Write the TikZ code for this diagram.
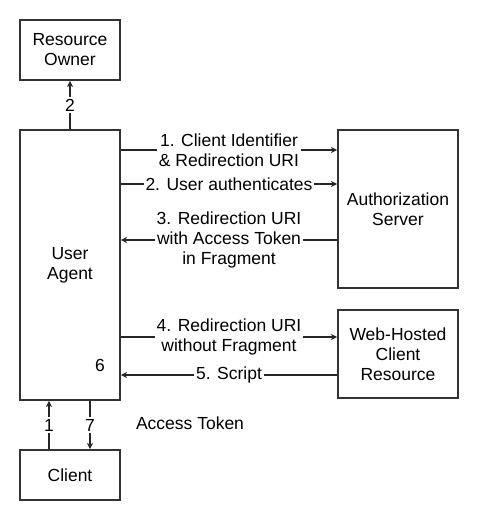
\documentclass[tikz,border=0pt]{standalone}
\usepackage{fontspec}
\setmainfont{Liberation Sans}
\usetikzlibrary{arrows.meta}

\begin{document}
\begin{tikzpicture}[x=1pt, y=-1pt]
	\tikzset{boite/.style={draw=black!80, line width=1.8pt, align=center, inner sep=0pt},
		fleche/.style={-{Stealth[length=6pt,width=6pt,inset=1.5pt]}, line width=1.6pt, black!85},
		etiq/.style={fill=white, inner sep=2pt, align=center, text=black}};
	\useasboundingbox (0,0) rectangle (479,520);
	\fontsize{17.5}{20}\selectfont

	\node[boite, minimum width=100pt, minimum height=60pt]  (ro) at ( 70,  50) {Resource\\Owner};
	\node[boite, minimum width=100pt, minimum height=270pt] (ua) at ( 70, 265) {User\\Agent};
	\node[boite, minimum width=120pt, minimum height=158pt] (as) at (398, 209) {Authorization\\Server};
	\node[boite, minimum width=120pt, minimum height=88pt]  (wh) at (398, 354) {Web-Hosted\\Client\\Resource};
	\node[boite, minimum width=100pt, minimum height=50pt]  (cl) at ( 70, 475) {Client};

	\node (six) at (100, 365) {6};
	\node (token) at (190, 423) {Access Token};

	\draw[fleche] (ua.north) to node[etiq] {2} (ro.south);
	\draw[fleche] (ua.east |- 0,150) to node[etiq] {1. Client Identifier\\\& Redirection URI} (as.west |- 0,150);
	\draw[fleche] (ua.east |- 0,184) to node[etiq] {2. User authenticates} (as.west |- 0,184);
	\draw[fleche] (as.west |- 0,240) to node[etiq] {3. Redirection URI\\with Access Token\\in Fragment} (ua.east |- 0,240);
	\draw[fleche] (ua.east |- 0,337) to node[etiq] {4. Redirection URI\\without Fragment} (wh.west |- 0,337);
	\draw[fleche] (wh.west |- 0,375) to node[etiq] {5. Script} (ua.east |- 0,375);
	\draw[fleche] (cl.north -| 49,0) to node[etiq] {1} (ua.south -| 49,0);
	\draw[fleche] (ua.south -| 90,0) to node[etiq] {7} (cl.north -| 90,0);

\end{tikzpicture}
\end{document}
